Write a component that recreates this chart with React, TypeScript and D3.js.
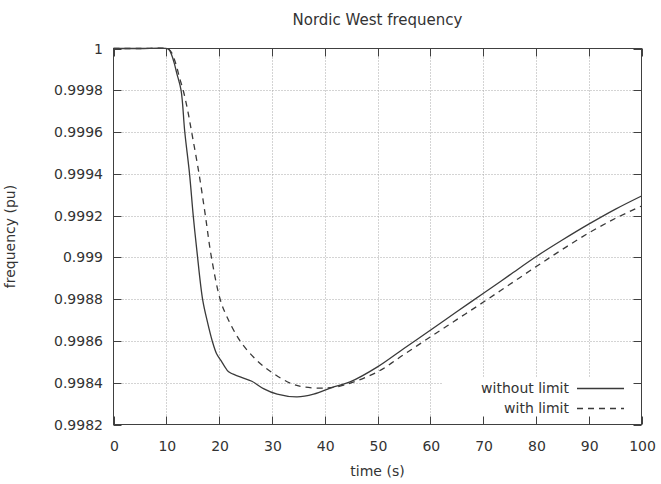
import React from "react";
import * as d3 from "d3";

const title = "Nordic West frequency";
const xLabel = "time (s)";
const yLabel = "frequency (pu)";
const xTicks = [0, 10, 20, 30, 40, 50, 60, 70, 80, 90, 100];
const yTicks = [0.9982, 0.9984, 0.9986, 0.9988, 0.999, 0.9992, 0.9994, 0.9996, 0.9998, 1];
const yTickLabels = ["0.9982", "0.9984", "0.9986", "0.9988", "0.999", "0.9992", "0.9994", "0.9996", "0.9998", "1"];

const seriesNames = ["without limit", "with limit"];

const timeWithout = [0, 5, 10, 10.5, 11, 11.5, 12, 12.8, 13.5, 14.4, 15.1, 15.8, 16.9, 17.8, 18.7, 19.5, 20.3, 21.0, 21.8, 24.0, 26.2, 28.4, 31.0, 34.8, 37.9, 41.7, 44.8, 50, 55, 60, 65, 70, 75, 80, 85, 90, 95, 100];
const freqWithout = [1.0, 1.0, 1.0, 0.999995, 0.99997, 0.99993, 0.99988, 0.9998, 0.9996, 0.9994, 0.9992, 0.99903, 0.998795, 0.99869, 0.9986, 0.99854, 0.998508, 0.99848, 0.998452, 0.998428, 0.998407, 0.998372, 0.998345, 0.998332, 0.998345, 0.99838, 0.998404, 0.998476, 0.998564, 0.998651, 0.99874, 0.998827, 0.998915, 0.999003, 0.999083, 0.999159, 0.99923, 0.999294];

const timeWith = [0, 5, 10, 10.5, 11, 11.5, 12, 12.5, 13.2, 14.0, 14.8, 16.2, 17.4, 18.55, 20.25, 21.5, 24.0, 27.1, 30.3, 33.5, 36.0, 40.4, 43.6, 50, 55, 60, 65, 70, 75, 80, 85, 90, 95, 100];
const freqWith = [1.0, 1.0, 1.0, 0.999995, 0.99998, 0.99995, 0.99991, 0.99986, 0.9998, 0.99971, 0.9996, 0.9994, 0.9992, 0.999, 0.998795, 0.998715, 0.998599, 0.998508, 0.998444, 0.998398, 0.99838, 0.998375, 0.998388, 0.998452, 0.998535, 0.998619, 0.998702, 0.998785, 0.99887, 0.998955, 0.999038, 0.999117, 0.999186, 0.999246];

const W = 661;
const H = 484;
const L = 113.5, R = 641.5, T = 48.5, B = 424.5;
const FONT = "'DejaVu Sans', Verdana, sans-serif";
const TXT = "#333";
const LINE = "#3a3a3a";

export default function App() {
  const x = d3.scaleLinear().domain([0, 100]).range([L, R]);
  const y = d3.scaleLinear().domain([0.9982, 1]).range([B, T]);
  const line = d3
    .line<[number, number]>()
    .x((d) => x(d[0]))
    .y((d) => Math.max(T, y(d[1])))
    .curve(d3.curveCatmullRom.alpha(0.5));
  const solid = line(timeWithout.map((t, i) => [t, freqWithout[i]]) as [number, number][]) || "";
  const dashed = line(timeWith.map((t, i) => [t, freqWith[i]]) as [number, number][]) || "";

  const legendBox = { x0: 443, x1: R, y0: 378, y1: B };
  const tick = 8;

  return (
    <svg width={W} height={H} style={{ position: "absolute", left: 0, top: 0, background: "#fff" }} fontFamily={FONT}>
      <rect x={0} y={0} width={W} height={H} fill="#fff" />
      {/* grid */}
      <g stroke="#a8a8a8" strokeWidth={1} strokeDasharray="1,2">
        {xTicks.slice(1, -1).map((t) => (
          <line key={"gx" + t} x1={Math.round(x(t)) + 0.5} x2={Math.round(x(t)) + 0.5} y1={T} y2={B} />
        ))}
        {yTicks.slice(1, -1).map((t) => (
          <line key={"gy" + t} x1={L} x2={R} y1={Math.round(y(t)) + 0.5} y2={Math.round(y(t)) + 0.5} />
        ))}
      </g>
      {/* legend background */}
      <rect x={legendBox.x0} y={legendBox.y0} width={legendBox.x1 - legendBox.x0} height={legendBox.y1 - legendBox.y0} fill="#fff" />
      {/* curves */}
      <path d={solid} fill="none" stroke={LINE} strokeWidth={1.3} />
      <path d={dashed} fill="none" stroke={LINE} strokeWidth={1.3} strokeDasharray="6,5" />
      {/* border and ticks */}
      <g stroke="#404040" strokeWidth={1} fill="none">
        <rect x={L} y={T} width={R - L} height={B - T} />
        {xTicks.map((t) => {
          const px = Math.round(x(t)) + 0.5;
          return (
            <g key={"tx" + t}>
              <line x1={px} x2={px} y1={B} y2={B - tick} />
              <line x1={px} x2={px} y1={T} y2={T + tick} />
            </g>
          );
        })}
        {yTicks.map((t) => {
          const py = Math.round(y(t)) + 0.5;
          return (
            <g key={"ty" + t}>
              <line x1={L} x2={L + tick} y1={py} y2={py} />
              <line x1={R} x2={R - tick} y1={py} y2={py} />
            </g>
          );
        })}
      </g>
      {/* tick labels */}
      <g fill={TXT} fontSize={14}>
        {xTicks.map((t) => (
          <text key={"lx" + t} x={x(t) + 1} y={451} textAnchor="middle">
            {t}
          </text>
        ))}
        {yTicks.map((t, i) => (
          <text key={"ly" + t} x={103} y={y(t) + 5} textAnchor="end">
            {yTickLabels[i]}
          </text>
        ))}
      </g>
      {/* axis labels */}
      <text x={(L + R) / 2} y={476} textAnchor="middle" fontSize={14} fill={TXT}>
        {xLabel}
      </text>
      <text transform={`translate(15, ${(T + B) / 2}) rotate(-90)`} textAnchor="middle" fontSize={14} fill={TXT}>
        {yLabel}
      </text>
      <text x={(L + R) / 2} y={25} textAnchor="middle" fontSize={15} fill={TXT}>
        {title}
      </text>
      {/* legend */}
      <g fontSize={14} fill={TXT}>
        <text x={569} y={393} textAnchor="end">{seriesNames[0]}</text>
        <text x={569} y={413} textAnchor="end">{seriesNames[1]}</text>
      </g>
      <line x1={577} x2={624} y1={388.5} y2={388.5} stroke={LINE} strokeWidth={1.3} />
      <line x1={577} x2={624} y1={408.5} y2={408.5} stroke={LINE} strokeWidth={1.3} strokeDasharray="6,5" />
    </svg>
  );
}
